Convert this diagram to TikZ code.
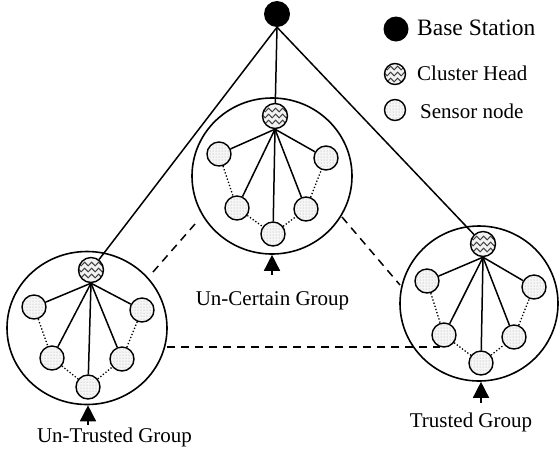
\documentclass[tikz,border=0pt]{standalone}
\usepackage{fontspec}
\setmainfont{Liberation Serif}
\usetikzlibrary{shapes.geometric,patterns,decorations.pathmorphing,arrows.meta}
\begin{document}
\begin{tikzpicture}[x=1pt,y=-1pt,
  grp/.style={ellipse, draw, line width=1.6pt, inner sep=0pt},
  sensor/.style={circle, draw, line width=1.4pt, inner sep=0pt, minimum size=24pt, fill=gray!7,
     path picture={\fill[pattern=dots, pattern color=gray!70] (path picture bounding box.south west) rectangle (path picture bounding box.north east);}},
  chead/.style={circle, draw, line width=1.4pt, inner sep=0pt, minimum size=25pt, fill=gray!10,
     path picture={\foreach \dy in {-6,0,6} \draw[black!75, line width=1pt, decorate, decoration={snake, amplitude=1.8pt, segment length=7pt}] ([yshift=\dy pt, xshift=-3pt]path picture bounding box.west) -- ([yshift=\dy pt, xshift=3pt]path picture bounding box.east);}},
  bs/.style={circle, fill=black, inner sep=0pt, minimum size=26pt},
  link/.style={line width=1.5pt},
  dotl/.style={line width=1.3pt, dash pattern=on 1.3pt off 2pt},
  dashl/.style={line width=1.5pt, dash pattern=on 8pt off 6pt},
  arr/.style={-{Triangle[width=16pt,length=16pt]}, line width=1.5pt},
  lbl/.style={font=\fontsize{21}{24}\selectfont, inner sep=0pt, anchor=base},
  leg/.style={inner sep=0pt, anchor=base west}]
\useasboundingbox (0,0) rectangle (559,451);

% base station
\node[bs] (bs) at (277,14) {};

% center group
\node[grp, minimum width=160pt, minimum height=156pt] (C) at (272,176) {};
\node[chead] (Ch) at (275,116) {};
\node[sensor] (Ca) at (219,154) {};
\node[sensor] (Cb) at (326,158) {};
\node[sensor] (Cc) at (237,208) {};
\node[sensor] (Cd) at (306,209) {};
\node[sensor] (Ce) at (273,234) {};

% left group
\node[grp, minimum width=160pt, minimum height=153pt] (L) at (87,328) {};
\node[chead] (Lh) at (91,270) {};
\node[sensor] (La) at (34,307) {};
\node[sensor] (Lb) at (142,310) {};
\node[sensor] (Lc) at (52,358) {};
\node[sensor] (Ld) at (122,359) {};
\node[sensor] (Le) at (88,387) {};

% right group
\node[grp, minimum width=158pt, minimum height=155pt] (R) at (479,303.5) {};
\node[chead] (Rh) at (483,244) {};
\node[sensor] (Ra) at (427,281) {};
\node[sensor] (Rb) at (534,287) {};
\node[sensor] (Rc) at (444,335) {};
\node[sensor] (Rd) at (514,337) {};
\node[sensor] (Re) at (481,363) {};

\foreach \g in {C,L,R} {
  \foreach \s in {a,b,c,d,e} \draw[link] (\g h.south) -- (\g\s);
  \draw[dotl] (\g a) -- (\g c);
  \draw[dotl] (\g c) -- (\g e);
  \draw[dotl] (\g e) -- (\g d);
  \draw[dotl] (\g d) -- (\g b);
}

% base station links
\draw[link] (bs.south) -- (Ch);
\draw[link] (bs.south) -- (Lh);
\draw[link] (bs.south) -- (Rh);

% dashed inter-group links
\coordinate (d1a) at (153,272); \coordinate (d1b) at (195,224);
\coordinate (d2a) at (342,217); \coordinate (d2b) at (400,285);
\coordinate (d3a) at (167,347); \coordinate (d3b) at (440,347);
\draw[dashl] (d1a) -- (d1b);
\draw[dashl] (d2a) -- (d2b);
\draw[dashl] (d3a) -- (d3b);

% arrows and labels
\coordinate (Ct) at (272,275);
\coordinate (Lt) at (88,425);
\coordinate (Rt) at (481,403);
\draw[arr] (Ct) -- (C.south);
\draw[arr] (Lt) -- (Lt |- L.south);
\draw[arr] (Rt) -- (Rt |- R.south);
\node[lbl] (tC) at (272.5,305) {Un-Certain Group};
\node[lbl] (tL) at (114.5,442) {Un-Trusted Group};
\node[lbl] (tR) at (471,427) {Trusted Group};

% legend
\node[bs, minimum size=25pt] (lbs) at (396,29) {};
\node[chead, minimum size=21pt] (lch) at (395,74) {};
\node[sensor, minimum size=21pt] (lsn) at (395,110) {};
\node[leg, font=\fontsize{23.5}{26}\selectfont] (tbs) at (417,35) {Base Station};
\node[leg, font=\fontsize{21}{24}\selectfont] (tch) at (417,80) {Cluster Head};
\node[leg, font=\fontsize{21}{24}\selectfont] (tsn) at (420,118) {Sensor node};
\end{tikzpicture}
\end{document}
